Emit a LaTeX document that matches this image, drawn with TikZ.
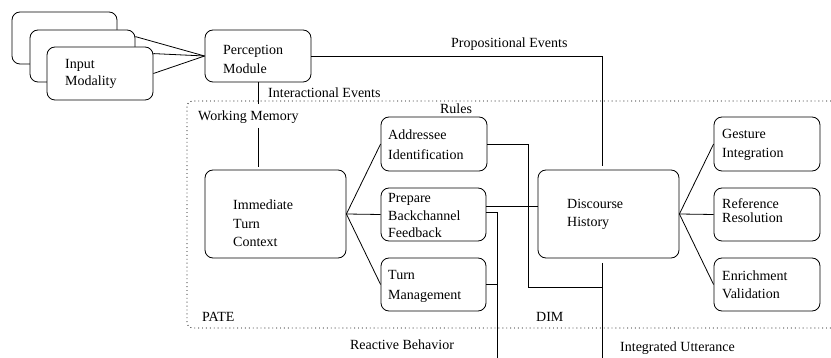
\documentclass[tikz,border=0pt]{standalone}
\usepackage{fontspec}
\setmainfont{Liberation Serif}
\begin{document}
\begin{tikzpicture}[x=1pt,y=-1pt,
  every node/.style={font=\fontsize{14}{19}\selectfont},
  box/.style={draw, rounded corners=8pt, line width=0.8pt, fill=white, inner sep=0pt},
  txt/.style={anchor=west, align=left, inner sep=0pt},
  lbl/.style={inner sep=0pt},
  conn/.style={line width=0.8pt}]
\useasboundingbox (0,0) rectangle (831,358);
% memory frame
\draw[line width=0.8pt, dash pattern=on 0.9pt off 3pt, rounded corners=5pt]
  (831,101) -- (187,101) -- (187,328) -- (831,328);
% input modality stack
\node[box, minimum width=105pt, minimum height=52pt] (in1) at (64.5,38) {};
\node[box, minimum width=105pt, minimum height=52pt] (in2) at (82.5,56) {};
\node[box, minimum width=106pt, minimum height=53pt] (in3) at (100,73.5) {};
\node[txt, font=\fontsize{14}{17}\selectfont] (tin) at (65,73.5) {Input\\Modality};
% perception
\node[box, minimum width=106pt, minimum height=52pt] (perc) at (258,56) {};
\node[txt] (tperc) at (223,59.5) {Perception\\Module};
% PATE boxes
\node[box, minimum width=141pt, minimum height=88pt] (imm) at (275.5,214) {};
\node[txt, font=\fontsize{14}{18.5}\selectfont] (timm) at (233,223.5) {Immediate\\Turn\\Context};
\node[box, minimum width=106pt, minimum height=54pt] (addr) at (434,144) {};
\node[txt, font=\fontsize{14}{20}\selectfont] (taddr) at (388,145) {Addressee\\Identification};
\node[box, minimum width=105pt, minimum height=53pt] (prep) at (433.5,214.5) {};
\node[txt, font=\fontsize{14}{17.5}\selectfont] (tprep) at (388,215.7) {Prepare\\Backchannel\\Feedback};
\node[box, minimum width=105pt, minimum height=53pt] (turn) at (433.5,284.5) {};
\node[txt, font=\fontsize{14}{20}\selectfont] (tturn) at (388,286) {Turn\\Management};
% DIM boxes
\node[box, minimum width=141pt, minimum height=88pt] (disc) at (608.5,214) {};
\node[txt, font=\fontsize{14}{18}\selectfont] (tdisc) at (567,214) {Discourse\\History};
\node[box, minimum width=106pt, minimum height=54pt] (gest) at (767,144) {};
\node[txt, font=\fontsize{14}{19}\selectfont] (tgest) at (722,145) {Gesture\\Integration};
\node[box, minimum width=106pt, minimum height=53pt] (ref) at (767,214.5) {};
\node[txt, font=\fontsize{14}{14}\selectfont] (tref) at (722,211) {Reference\\Resolution};
\node[box, minimum width=106pt, minimum height=53pt] (enr) at (767,284.5) {};
\node[txt, font=\fontsize{14}{18}\selectfont] (tenr) at (722,285) {Enrichment\\Validation};
% labels
\node[lbl, anchor=west] (lprop) at (451,44) {Propositional Events};
\node[lbl, anchor=west] (linter) at (268,93) {Interactional Events};
\node[lbl, anchor=west] (lwm) at (198,117) {Working Memory};
\node[lbl] (lrules) at (456,109) {Rules};
\node[lbl, anchor=west] (lpate) at (202,317) {PATE};
\node[lbl, anchor=west] (ldim) at (536,317) {DIM};
\node[lbl] (lreact) at (402,345) {Reactive Behavior};
\node[lbl, anchor=west] (lint) at (620,348) {Integrated Utterance};
% coordinates
\coordinate (pe) at (602,166);
\coordinate (ie) at (258,104);
\coordinate (wm) at (258,128);
\coordinate (wmend) at (258,167);
\coordinate (ac) at (528,287);
\coordinate (ju) at (602,287);
\coordinate (du) at (602,263);
\coordinate (iu) at (602,358);
\coordinate (rb) at (497,358);
% connectors
\draw[conn] ([yshift=-7pt]in2.north east) -- (perc.west);
\draw[conn] ([yshift=-7pt]in3.north east) -- (perc.west);
\draw[conn] (in3.east) -- (perc.west);
\draw[conn] (perc.east) -| (pe);
\draw[conn] (perc.south) -- (ie);
\draw[conn] (wm) -- (wmend);
\draw[conn] (imm.east) -- (addr.west);
\draw[conn] (imm.east) -- (prep.west);
\draw[conn] (imm.east) -- (turn.west);
\draw[conn] (addr.east) -| (ac) -- (ju);
\draw[conn] ([yshift=8.5pt]prep.east) -- ([yshift=8pt]disc.west);
\draw[conn] ([yshift=2pt]prep.east) -| (rb);
\draw[conn] (turn.east) -- (turn.east -| rb);
\draw[conn] (du) -- (iu);
\draw[conn] (disc.east) -- (gest.west);
\draw[conn] (disc.east) -- (ref.west);
\draw[conn] (disc.east) -- (enr.west);
\end{tikzpicture}
\end{document}
